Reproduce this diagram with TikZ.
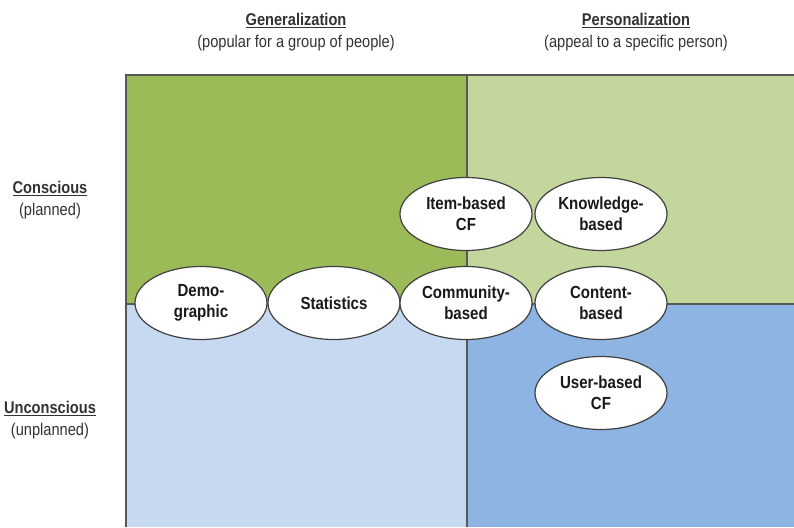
\documentclass[tikz,border=0pt]{standalone}
\usepackage{fontspec}
\setmainfont[FakeStretch=0.86]{Liberation Sans}
\usetikzlibrary{shapes.geometric}

\definecolor{consgen}{HTML}{9BBB59}
\definecolor{conspers}{HTML}{C3D69B}
\definecolor{uncgen}{HTML}{C6D9F1}
\definecolor{uncpers}{HTML}{8EB4E3}
\definecolor{edgegray}{HTML}{555A55}

\begin{document}
\begin{tikzpicture}[x=1pt,y=-1pt,
    method/.style={ellipse,draw=black!75,line width=1.2pt,fill=white,
        minimum width=132pt,minimum height=73pt,inner sep=0pt,align=center,
        text=black!90,font=\fontsize{17.5}{21}\selectfont\bfseries},
    heading/.style={align=center,text=black!80,font=\fontsize{17}{22}\selectfont}]
    \useasboundingbox (0,0) rectangle (794,527);

    % Quadrants
    \fill[consgen] (126,75) rectangle (467,304);
    \fill[conspers] (467,75) rectangle (794,304);
    \fill[uncgen] (126,304) rectangle (467,527);
    \fill[uncpers] (467,304) rectangle (794,527);
    \draw[edgegray,line width=1.5pt] (126,527) -- (126,75) -- (794,75);
    \draw[edgegray,line width=1.5pt] (467,75) -- (467,527);
    \draw[edgegray,line width=1.5pt] (126,304) -- (794,304);

    % Column headings
    \node[heading] (gen) at (296,32) {\textbf{\underline{Generalization}}\\(popular for a group of people)};
    \node[heading] (pers) at (636,32) {\textbf{\underline{Personalization}}\\(appeal to a specific person)};

    % Row headings
    \node[heading] (cons) at (50,200) {\textbf{\underline{Conscious}}\\(planned)};
    \node[heading] (uncons) at (50,420) {\textbf{\underline{Unconscious}}\\(unplanned)};

    % Recommendation methods
    \node[method] (demo) at (201,303) {Demo-\\graphic};
    \node[method] (stats) at (334,303) {Statistics};
    \node[method] (community) at (466,303) {Community-\\based};
    \node[method] (content) at (601,303) {Content-\\based};
    \node[method] (itemcf) at (466,214) {Item-based\\CF};
    \node[method] (knowledge) at (601,214) {Knowledge-\\based};
    \node[method] (usercf) at (601,393) {User-based\\CF};
\end{tikzpicture}
\end{document}
